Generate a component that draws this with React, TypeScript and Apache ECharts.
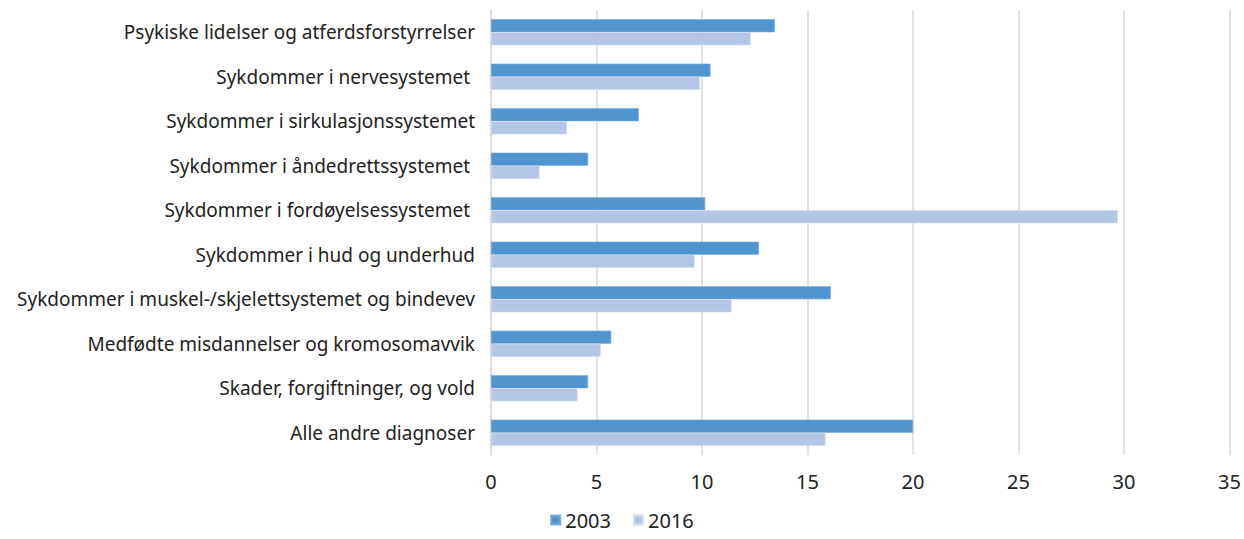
import React, { useEffect, useRef } from "react";
import * as echarts from "echarts";

const categories = [
  "Psykiske lidelser og atferdsforstyrrelser",
  "Sykdommer i nervesystemet ",
  "Sykdommer i sirkulasjonssystemet",
  "Sykdommer i åndedrettssystemet ",
  "Sykdommer i fordøyelsessystemet ",
  "Sykdommer i hud og underhud",
  "Sykdommer i muskel-/skjelettsystemet og bindevev",
  "Medfødte misdannelser og kromosomavvik",
  "Skader, forgiftninger, og vold",
  "Alle andre diagnoser",
];

const values2003 = [13.45, 10.4, 7.0, 4.6, 10.15, 12.7, 16.1, 5.7, 4.6, 20.0];
const values2016 = [12.3, 9.9, 3.6, 2.3, 29.7, 9.65, 11.4, 5.2, 4.1, 15.85];

const seriesNames = ["2003", "2016"];

const FONT = "'Noto Sans', 'DejaVu Sans', sans-serif";

export default function App() {
  const ref = useRef<HTMLDivElement>(null);

  useEffect(() => {
    document.body.style.margin = "0";
    if (!ref.current) return;
    const chart = echarts.init(ref.current, undefined, { renderer: "svg" });
    chart.setOption({
      animation: false,
      backgroundColor: "#ffffff",
      textStyle: { fontFamily: FONT },
      grid: { left: 491, right: 14, top: 10, bottom: 84 },
      legend: {
        top: 509,
        left: "center",
        itemWidth: 9,
        itemHeight: 9,
        itemGap: 22,
        icon: "rect",
        padding: 0,
        textStyle: { fontSize: 20, lineHeight: 22, color: "#222222", fontFamily: FONT },
        data: seriesNames,
      },
      xAxis: {
        type: "value",
        min: 0,
        max: 35,
        interval: 5,
        axisLine: { show: false },
        axisTick: { show: false },
        axisLabel: { fontSize: 20, color: "#222222", margin: 16, fontFamily: FONT },
        splitLine: { show: true, lineStyle: { color: "#d9d9d9", width: 1.5 } },
      },
      yAxis: {
        type: "category",
        inverse: true,
        data: categories,
        axisLine: { show: true, lineStyle: { color: "#d9d9d9", width: 1.5 } },
        axisTick: { show: false },
        axisLabel: { fontSize: 19, color: "#222222", margin: 16, fontFamily: FONT },
      },
      series: [
        {
          name: seriesNames[0],
          type: "bar",
          data: values2003,
          barGap: "0%",
          barCategoryGap: "41%",
          itemStyle: { color: "#5094d0", borderColor: "#7aadda", borderWidth: 0.6 },
        },
        {
          name: seriesNames[1],
          type: "bar",
          data: values2016,
          barGap: "0%",
          barCategoryGap: "41%",
          itemStyle: { color: "#b4c5e6", borderColor: "#d3ddf1", borderWidth: 0.6 },
        },
      ],
    });
    return () => chart.dispose();
  }, []);

  return <div ref={ref} style={{ width: 1244, height: 539 }} />;
}
